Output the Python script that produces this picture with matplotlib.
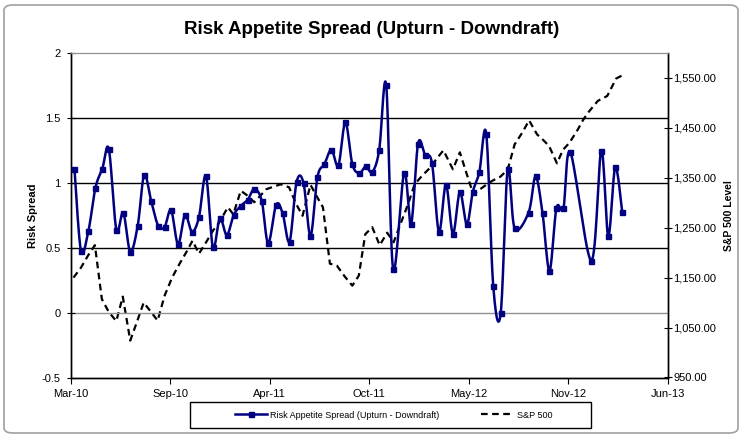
import numpy as np
import matplotlib
matplotlib.use("Agg")
import matplotlib.pyplot as plt
import matplotlib.dates as mdates
from matplotlib.patches import FancyBboxPatch, Rectangle
from matplotlib.ticker import FuncFormatter

plt.rcParams["font.family"] = ["Liberation Sans", "DejaVu Sans"]

start = np.datetime64("2010-03-01")

# days after 1 Mar 2010 for each reading of the spread
spread_days = [8, 21, 36, 50, 64, 77, 92, 106, 120, 135, 148, 162, 176, 189, 202, 216,
               230, 244, 258, 272, 286, 300, 314, 328, 342, 356, 369, 384, 397, 413,
               426, 440, 454, 468, 482, 496, 510, 524, 538, 552, 566, 580, 593, 606,
               620, 634, 648, 670, 684, 698, 712, 726, 740, 754, 768, 782, 796, 808,
               821, 835, 849, 864, 878, 892, 920, 934, 948, 962, 976, 990, 1004, 1046,
               1066, 1080, 1094, 1108]
spread = [1.106, 0.477, 0.63, 0.96, 1.11, 1.26, 0.64, 0.77, 0.47, 0.67, 1.06, 0.86,
          0.67, 0.66, 0.79, 0.527, 0.753, 0.624, 0.735, 1.054, 0.503, 0.727, 0.598,
          0.753, 0.822, 0.869, 0.951, 0.863, 0.534, 0.83, 0.766, 0.547, 1.005, 0.998,
          0.591, 1.044, 1.144, 1.255, 1.134, 1.466, 1.144, 1.075, 1.126, 1.083, 1.253,
          1.754, 0.336, 1.075, 0.681, 1.301, 1.216, 1.152, 0.622, 0.985, 0.608, 0.928,
          0.68, 0.93, 1.08, 1.376, 0.205, -0.006, 1.106, 0.65, 0.771, 1.049, 0.766,
          0.323, 0.805, 0.805, 1.234, 0.4, 1.247, 0.591, 1.118, 0.778]

spx_days = [6, 21, 35, 49, 63, 77, 92, 105, 120, 134, 147, 162, 175, 189, 204, 218,
            232, 245, 258, 273, 286, 299, 316, 327, 342, 356, 369, 383, 393, 407, 422,
            439, 453, 466, 482, 495, 507, 521, 535, 551, 566, 579, 592, 606, 621, 636,
            649, 669, 679, 691, 707, 723, 735, 749, 768, 782, 795, 809, 821, 835, 847,
            863, 878, 892, 907, 921, 937, 949, 961, 977, 989, 1002, 1019, 1029, 1039,
            1059, 1078, 1096, 1108]
spx = [1150, 1170, 1194, 1215, 1107, 1081, 1063, 1112, 1024, 1063, 1100, 1081, 1064,
       1114, 1150, 1176, 1200, 1224, 1198, 1222, 1244, 1261, 1291, 1277, 1324, 1314,
       1301, 1316, 1327, 1332, 1337, 1331, 1298, 1274, 1336, 1312, 1291, 1178, 1174,
       1152, 1134, 1154, 1237, 1251, 1215, 1240, 1221, 1274, 1300, 1337, 1355, 1371,
       1388, 1405, 1367, 1401, 1360, 1317, 1326, 1336, 1344, 1352, 1366, 1417, 1440,
       1465, 1437, 1426, 1414, 1379, 1406, 1420, 1447, 1465, 1480, 1504, 1514, 1549,
       1555]

tick_days = [0, 200, 400, 600, 800, 1000, 1200]


def to_num(days):
    return mdates.date2num((start + np.array(days, dtype="timedelta64[D]")).astype("datetime64[s]").astype(object))


def smooth(x, y, n=16):
    # Excel style smoothed line (Catmull-Rom bezier)
    x = np.asarray(x, float)
    y = np.asarray(y, float)
    px, py = [], []
    t = np.linspace(0, 1, n, endpoint=False)
    for i in range(len(x) - 1):
        i0 = max(i - 1, 0)
        i3 = min(i + 2, len(x) - 1)
        c1x = x[i] + (x[i + 1] - x[i0]) / 6
        c1y = y[i] + (y[i + 1] - y[i0]) / 6
        c2x = x[i + 1] - (x[i3] - x[i]) / 6
        c2y = y[i + 1] - (y[i3] - y[i]) / 6
        b0 = (1 - t) ** 3
        b1 = 3 * (1 - t) ** 2 * t
        b2 = 3 * (1 - t) * t ** 2
        b3 = t ** 3
        px.extend(b0 * x[i] + b1 * c1x + b2 * c2x + b3 * x[i + 1])
        py.extend(b0 * y[i] + b1 * c1y + b2 * c2y + b3 * y[i + 1])
    px.append(x[-1])
    py.append(y[-1])
    return np.array(px), np.array(py)


fig = plt.figure(figsize=(7.43, 4.37), dpi=100)
fig.patches.append(FancyBboxPatch((4 / 743, 4 / 437), 734 / 743, 428 / 437,
                                  boxstyle="round,pad=0,rounding_size=0.012",
                                  transform=fig.transFigure, fill=False,
                                  edgecolor="#a0a0a0", linewidth=1.2))

ax = fig.add_axes([70.5 / 743, 1 - 377.5 / 437, 597.5 / 743, 324.5 / 437])
ax2 = ax.twinx()

sx = to_num(spread_days)
spx_x = to_num(spx_days)

ax.set_ylim(-0.5, 2)
ax.set_yticks([-0.5, 0, 0.5, 1, 1.5, 2])
ax.set_yticklabels(["-0.5", "0", "0.5", "1", "1.5", "2"])
for v in [0.5, 1, 1.5]:
    ax.axhline(v, color="black", linewidth=1, zorder=1)
ax.axhline(0, color="#909090", linewidth=1, zorder=1)

ax2.set_ylim(950, 1600)
ax2.set_yticks(np.arange(950, 1551, 100))
ax2.yaxis.set_major_formatter(FuncFormatter(lambda v, p: f"{v:,.2f}"))

line2, = ax2.plot(spx_x, spx, color="black", linestyle=(0, (3, 2)), linewidth=1.6,
                  zorder=2, label="S&P 500")

smx, smy = smooth(sx, spread)
ax2.set_zorder(1)
ax.set_zorder(2)
ax.patch.set_visible(False)
ax.plot(smx, smy, color="#000080", linewidth=1.8, zorder=3)
ax.plot(sx, spread, linestyle="none", marker="s", markersize=3.6, color="#000080", zorder=4)

ax.set_xlim(to_num([0])[0], to_num([1200])[0])
ax.set_xticks(to_num(tick_days))
ax.xaxis.set_major_formatter(mdates.DateFormatter("%b-%y"))

for a in (ax, ax2):
    a.spines["top"].set_color("#909090")
    a.spines["left"].set_linewidth(1)
    a.spines["right"].set_linewidth(1)
    a.spines["bottom"].set_linewidth(1)
ax.tick_params(axis="y", direction="inout", length=6, labelsize=8, pad=4)
ax2.tick_params(axis="y", direction="inout", length=6, labelsize=8, pad=1)
ax.tick_params(axis="x", direction="out", length=4, labelsize=8, pad=4)

ax.set_ylabel("Risk Spread", fontsize=8, fontweight="bold", labelpad=3)
ax2.set_ylabel("S&P 500 Level", fontsize=7.5, fontweight="bold", labelpad=5)

fig.text(0.5, 1 - 30 / 437, "Risk Appetite Spread (Upturn - Downdraft)", ha="center",
         va="center", fontsize=13.5, fontweight="bold")

h1 = plt.Line2D([], [], color="#000080", linewidth=1.8, marker="s", markersize=3.6)
leg = fig.legend([h1, line2], ["Risk Appetite Spread (Upturn - Downdraft)", "S&P 500"],
                 loc="center", bbox_to_anchor=(393.5 / 743, 1 - 415 / 437), ncol=2,
                 fontsize=6.5, frameon=False, handlelength=3.5, columnspacing=4.65,
                 handletextpad=0.4)
fig.patches.append(Rectangle((190 / 743, 1 - 428 / 437), 401 / 743, 26 / 437,
                             transform=fig.transFigure, fill=False,
                             edgecolor="black", linewidth=1))

fig.savefig("out.png", dpi=100)
